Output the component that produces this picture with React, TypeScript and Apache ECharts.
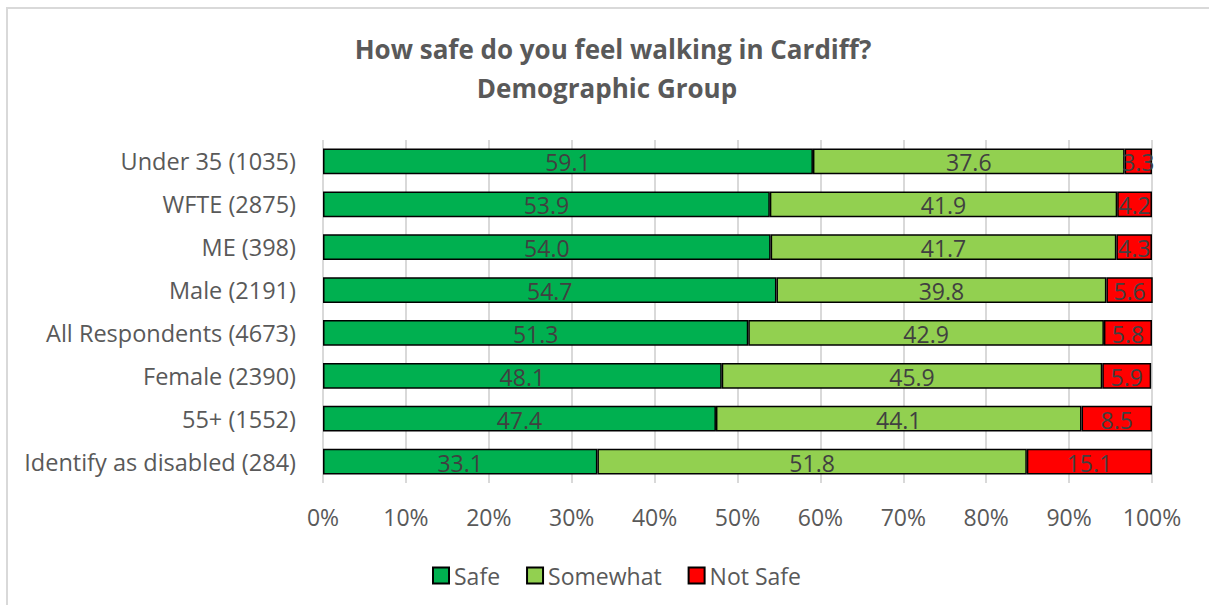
import React, { useEffect, useRef } from "react";
import * as echarts from "echarts";

const categories = [
  "Under 35 (1035)",
  "WFTE (2875)",
  "ME (398)",
  "Male (2191)",
  "All Respondents (4673)",
  "Female (2390)",
  "55+ (1552)",
  "Identify as disabled (284)",
];
const safe = [59.1, 53.9, 54.0, 54.7, 51.3, 48.1, 47.4, 33.1];
const somewhat = [37.6, 41.9, 41.7, 39.8, 42.9, 45.9, 44.1, 51.8];
const notSafe = [3.3, 4.2, 4.3, 5.6, 5.8, 5.9, 8.5, 15.1];
const seriesNames = ["Safe", "Somewhat", "Not Safe"];
const colors = ["#00b050", "#92d050", "#ff0000"];

const FONT = "'Open Sans', 'Noto Sans', sans-serif";

export default function App() {
  const ref = useRef<HTMLDivElement>(null);
  useEffect(() => {
    if (!ref.current) return;
    const chart = echarts.init(ref.current, null, { renderer: "svg" });
    const values = [safe, somewhat, notSafe];
    chart.setOption({
      animation: false,
      backgroundColor: "#ffffff",
      textStyle: { fontFamily: FONT },
      title: [
        {
          text: "How safe do you feel walking in Cardiff?",
          left: 608,
          top: 31,
          textAlign: "center",
          textStyle: { fontFamily: FONT, fontWeight: "bold", fontSize: 26, color: "#595959" },
        },
        {
          text: "Demographic Group",
          left: 602,
          top: 70,
          textAlign: "center",
          textStyle: { fontFamily: FONT, fontWeight: "bold", fontSize: 26, color: "#595959" },
        },
      ],
      graphic: [
        {
          type: "rect",
          shape: { x: 7, y: 8, width: 1215, height: 615 },
          style: { fill: "none", stroke: "#d9d9d9", lineWidth: 2 },
          silent: true,
        },
      ],
      legend: {
        data: seriesNames,
        left: 427,
        top: 559,
        itemWidth: 16,
        itemHeight: 16,
        itemGap: 26,
        icon: "rect",
        textStyle: { fontFamily: FONT, fontSize: 23, color: "#595959" },
      },
      grid: { left: 323, right: 57, top: 140, bottom: 122, containLabel: false },
      xAxis: {
        type: "value",
        min: 0,
        max: 100,
        interval: 10,
        axisLine: { show: false },
        axisTick: { show: false },
        splitLine: { show: true, lineStyle: { color: "#d9d9d9", width: 2 } },
        axisLabel: {
          formatter: "{value}%",
          fontFamily: FONT,
          fontSize: 23,
          color: "#595959",
          margin: 22,
        },
      },
      yAxis: {
        type: "category",
        data: categories,
        inverse: true,
        axisLine: { show: false },
        axisTick: { show: false },
        axisLabel: { fontFamily: FONT, fontSize: 23.5, color: "#595959", margin: 27 },
      },
      series: seriesNames.map((name, i) => ({
        name,
        type: "bar",
        stack: "total",
        barWidth: "60%",
        data: values[i],
        itemStyle: { color: colors[i], borderColor: "#000000", borderWidth: 1.5 },
        label: {
          show: true,
          position: "inside",
          formatter: (p: any) => Number(p.value).toFixed(1),
          fontFamily: FONT,
          fontSize: 23,
          color: "#404040",
          offset: [0, 1],
        },
      })),
    });
    return () => chart.dispose();
  }, []);
  return (
    <div
      ref={ref}
      style={{ position: "fixed", left: 0, top: 0, width: 1209, height: 605 }}
    />
  );
}
